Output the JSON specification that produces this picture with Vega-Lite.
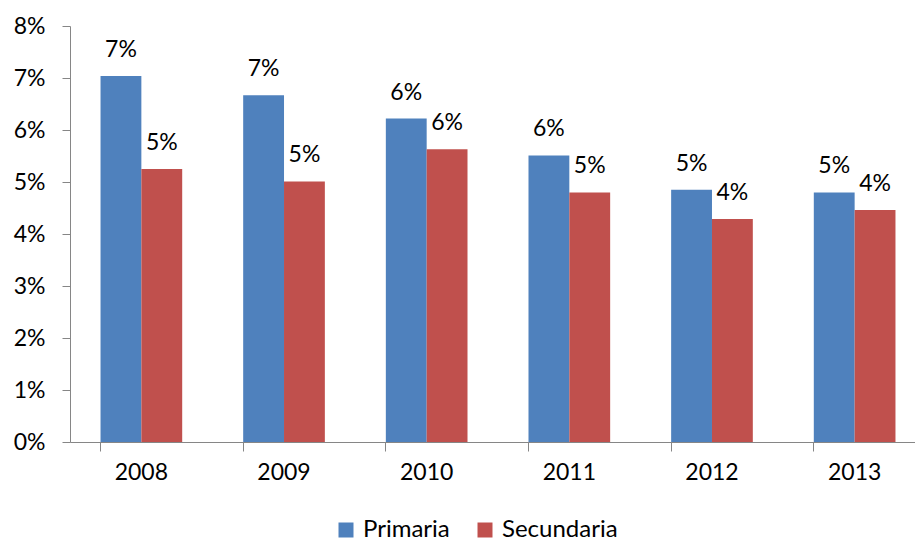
{
  "$schema": "https://vega.github.io/schema/vega-lite/v6.json",
  "width": 856,
  "height": 416,
  "autosize": {"type": "none"},
  "padding": {"left": 70, "top": 26, "right": 0, "bottom": 100},
  "background": "#ffffff",
  "config": {"font": "Lato", "view": {"stroke": null}},
  "data": {
    "values": [
      {"year": "2008", "level": "Primaria", "value": 0.0704},
      {"year": "2008", "level": "Secundaria", "value": 0.0525},
      {"year": "2009", "level": "Primaria", "value": 0.0667},
      {"year": "2009", "level": "Secundaria", "value": 0.0501},
      {"year": "2010", "level": "Primaria", "value": 0.0622},
      {"year": "2010", "level": "Secundaria", "value": 0.0563},
      {"year": "2011", "level": "Primaria", "value": 0.0551},
      {"year": "2011", "level": "Secundaria", "value": 0.048},
      {"year": "2012", "level": "Primaria", "value": 0.0485},
      {"year": "2012", "level": "Secundaria", "value": 0.0429},
      {"year": "2013", "level": "Primaria", "value": 0.048},
      {"year": "2013", "level": "Secundaria", "value": 0.0446}
    ]
  },
  "encoding": {
    "x": {
      "field": "year",
      "type": "nominal",
      "scale": {"paddingInner": 0.4275, "paddingOuter": 0.214},
      "axis": {
        "title": null,
        "labelAngle": 0,
        "labelFontSize": 23,
        "labelColor": "#000000",
        "labelPadding": 10,
        "domainColor": "#868686",
        "tickColor": "#868686",
        "tickSize": 9,
        "bandPosition": 0
      }
    },
    "xOffset": {"field": "level", "type": "nominal", "sort": ["Primaria", "Secundaria"], "scale": {"paddingInner": 0, "paddingOuter": 0}},
    "y": {
      "field": "value",
      "type": "quantitative",
      "scale": {"domain": [0, 0.08], "nice": false},
      "axis": {
        "title": null,
        "values": [0, 0.01, 0.02, 0.03, 0.04, 0.05, 0.06, 0.07, 0.08],
        "format": ".0%",
        "grid": false,
        "labelFontSize": 23,
        "labelColor": "#000000",
        "labelPadding": 17,
        "domainColor": "#868686",
        "tickColor": "#868686",
        "tickSize": 8
      }
    }
  },
  "layer": [
    {
      "mark": {"type": "bar"},
      "encoding": {
        "color": {
          "field": "level",
          "type": "nominal",
          "scale": {"domain": ["Primaria", "Secundaria"], "range": ["#4F81BD", "#C0504D"]},
          "legend": {
            "title": null,
            "orient": "none",
            "legendX": 264,
            "legendY": 492,
            "direction": "horizontal",
            "symbolType": "square",
            "symbolSize": 225,
            "symbolStrokeWidth": 0,
            "labelFontSize": 24,
            "labelColor": "#000000",
            "columnPadding": 23,
            "labelOffset": 5
          }
        }
      }
    },
    {
      "mark": {"type": "text", "baseline": "alphabetic", "dy": -19, "fontSize": 23, "color": "#000000"},
      "encoding": {"text": {"field": "value", "type": "quantitative", "format": ".0%"}}
    }
  ]
}
